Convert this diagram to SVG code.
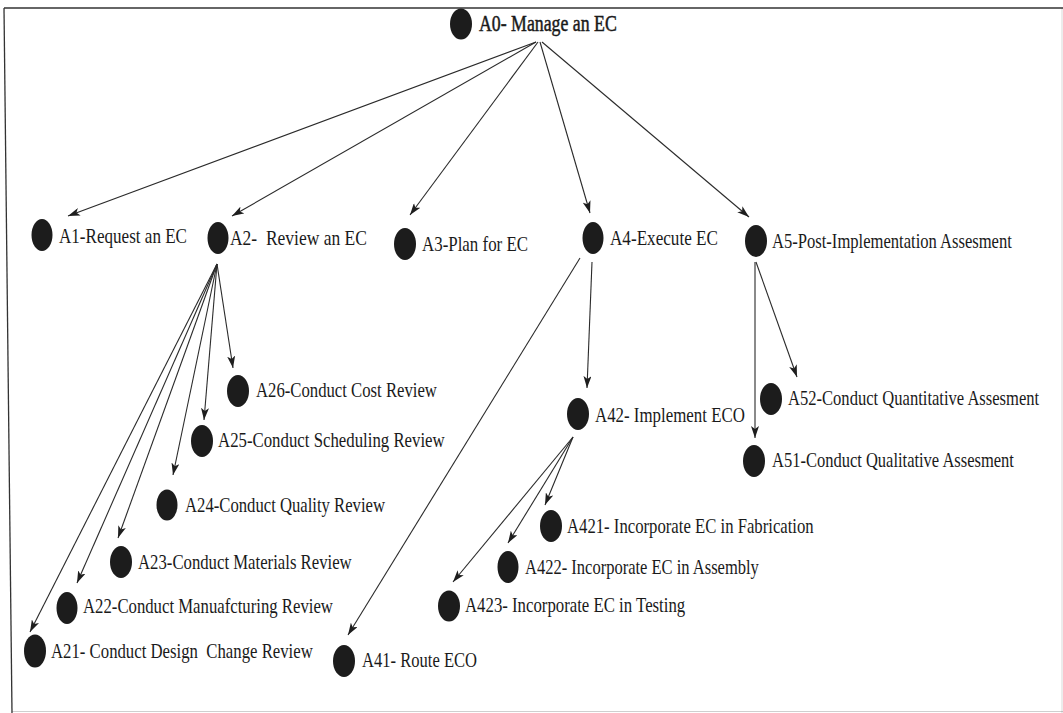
<svg xmlns="http://www.w3.org/2000/svg" width="1063" height="713" viewBox="0 0 1063 713">
  <defs>
    <marker id="arrow" viewBox="0 0 12 8" refX="12" refY="4" markerWidth="12" markerHeight="8" markerUnits="userSpaceOnUse" orient="auto">
      <path d="M0,0 L12,4 L0,8 L3,4 Z" fill="#1e1e1e"/>
    </marker>
    <style>
      .dot { fill: #1c1c1c; }
      .lbl { font-family: "Liberation Serif", "DejaVu Serif", serif; font-size: 22px; fill: #1a1a1a; white-space: pre; }
      .top { font-size: 23px; stroke: #1a1a1a; stroke-width: 0.5; }
      .edge { stroke: #2a2a2a; stroke-width: 1.1; fill: none; marker-end: url(#arrow); }
      .frame { stroke: #333; fill: none; }
    </style>
  </defs>
  <rect width="1063" height="713" fill="#ffffff"/>

  <!-- outer frame -->
  <g id="frame">
    <path class="frame" d="M4,8 L1063,8" stroke-width="1.6"/>
    <path class="frame" d="M4,8 L12,713" stroke-width="1.3"/>
    <path class="frame" d="M12,711.5 L1063,711.5" stroke-width="0.6" stroke-opacity="0.4"/>
    <path class="frame" d="M1062,8 L1062,713" stroke-width="0.6" stroke-opacity="0.3"/>
  </g>

  <!-- connectors -->
  <g id="connectors">
    <line class="edge" x1="536" y1="42" x2="68" y2="216"/>
    <line class="edge" x1="536" y1="42" x2="232" y2="216"/>
    <line class="edge" x1="538" y1="42" x2="410" y2="215"/>
    <line class="edge" x1="540" y1="42" x2="590" y2="213"/>
    <line class="edge" x1="542" y1="42" x2="749" y2="217"/>

    <line class="edge" x1="217" y1="264" x2="233" y2="368"/>
    <line class="edge" x1="217" y1="264" x2="204" y2="420"/>
    <line class="edge" x1="217" y1="264" x2="173" y2="475"/>
    <line class="edge" x1="217" y1="264" x2="118" y2="538"/>
    <line class="edge" x1="217" y1="264" x2="77" y2="583"/>
    <line class="edge" x1="217" y1="264" x2="30" y2="632"/>

    <line class="edge" x1="592" y1="262" x2="587" y2="388"/>
    <line class="edge" x1="580" y1="258" x2="348" y2="635"/>

    <line class="edge" x1="573" y1="437" x2="545" y2="505"/>
    <line class="edge" x1="573" y1="437" x2="508" y2="543"/>
    <line class="edge" x1="573" y1="437" x2="453" y2="582"/>

    <line class="edge" x1="756" y1="262" x2="797" y2="377"/>
    <line class="edge" x1="755" y1="262" x2="755" y2="438"/>
  </g>

  <!-- nodes: labels are set in a narrowed serif (horizontal scale) -->
  <g id="A0">
    <ellipse class="dot" cx="461" cy="24" rx="11" ry="15.5"/>
    <text class="lbl top" transform="translate(479,31) scale(0.774,1)">A0- Manage an EC</text>
  </g>
  <g id="A1">
    <ellipse class="dot" cx="42" cy="235" rx="10.5" ry="16"/>
    <text class="lbl" transform="translate(59,243) scale(0.776,1)">A1-Request an EC</text>
  </g>
  <g id="A2">
    <ellipse class="dot" cx="218" cy="238" rx="10.5" ry="16"/>
    <text class="lbl" transform="translate(230,245) scale(0.795,1)" xml:space="preserve">A2-  Review an EC</text>
  </g>
  <g id="A3">
    <ellipse class="dot" cx="405" cy="244" rx="11" ry="16"/>
    <text class="lbl" transform="translate(422,251) scale(0.768,1)">A3-Plan for EC</text>
  </g>
  <g id="A4">
    <ellipse class="dot" cx="593" cy="238" rx="10.5" ry="16"/>
    <text class="lbl" transform="translate(610,245) scale(0.779,1)">A4-Execute EC</text>
  </g>
  <g id="A5">
    <ellipse class="dot" cx="756" cy="241" rx="11" ry="16"/>
    <text class="lbl" transform="translate(772,248) scale(0.754,1)">A5-Post-Implementation Assesment</text>
  </g>

  <g id="A26">
    <ellipse class="dot" cx="238" cy="391" rx="11" ry="16"/>
    <text class="lbl" transform="translate(256,397) scale(0.76,1)">A26-Conduct Cost Review</text>
  </g>
  <g id="A25">
    <ellipse class="dot" cx="202" cy="441" rx="11" ry="16"/>
    <text class="lbl" transform="translate(218,447) scale(0.764,1)">A25-Conduct Scheduling Review</text>
  </g>
  <g id="A24">
    <ellipse class="dot" cx="167" cy="505" rx="10.5" ry="15.5"/>
    <text class="lbl" transform="translate(185,512) scale(0.758,1)">A24-Conduct Quality Review</text>
  </g>
  <g id="A23">
    <ellipse class="dot" cx="121" cy="562" rx="11" ry="16"/>
    <text class="lbl" transform="translate(138,569) scale(0.761,1)">A23-Conduct Materials Review</text>
  </g>
  <g id="A22">
    <ellipse class="dot" cx="67" cy="608" rx="10.5" ry="16"/>
    <text class="lbl" transform="translate(83,613) scale(0.761,1)">A22-Conduct Manuafcturing Review</text>
  </g>
  <g id="A21">
    <ellipse class="dot" cx="35" cy="651" rx="11" ry="16.5"/>
    <text class="lbl" transform="translate(51,658) scale(0.762,1)" xml:space="preserve">A21- Conduct Design  Change Review</text>
  </g>

  <g id="A42">
    <ellipse class="dot" cx="578" cy="414" rx="11" ry="16"/>
    <text class="lbl" transform="translate(595,422) scale(0.767,1)">A42- Implement ECO</text>
  </g>
  <g id="A41">
    <ellipse class="dot" cx="344" cy="661" rx="11" ry="16"/>
    <text class="lbl" transform="translate(362,667) scale(0.753,1)">A41- Route ECO</text>
  </g>
  <g id="A421">
    <ellipse class="dot" cx="551" cy="526" rx="11" ry="16"/>
    <text class="lbl" transform="translate(567,533) scale(0.76,1)">A421- Incorporate EC in Fabrication</text>
  </g>
  <g id="A422">
    <ellipse class="dot" cx="508" cy="567" rx="10.5" ry="16"/>
    <text class="lbl" transform="translate(525,574) scale(0.751,1)">A422- Incorporate EC in Assembly</text>
  </g>
  <g id="A423">
    <ellipse class="dot" cx="449" cy="606" rx="11" ry="15.5"/>
    <text class="lbl" transform="translate(465,612) scale(0.763,1)">A423- Incorporate EC in Testing</text>
  </g>

  <g id="A52">
    <ellipse class="dot" cx="771" cy="399" rx="11" ry="16"/>
    <text class="lbl" transform="translate(788,405) scale(0.753,1)">A52-Conduct Quantitative Assesment</text>
  </g>
  <g id="A51">
    <ellipse class="dot" cx="754" cy="461" rx="11" ry="16"/>
    <text class="lbl" transform="translate(772,467) scale(0.75,1)">A51-Conduct Qualitative Assesment</text>
  </g>
</svg>
